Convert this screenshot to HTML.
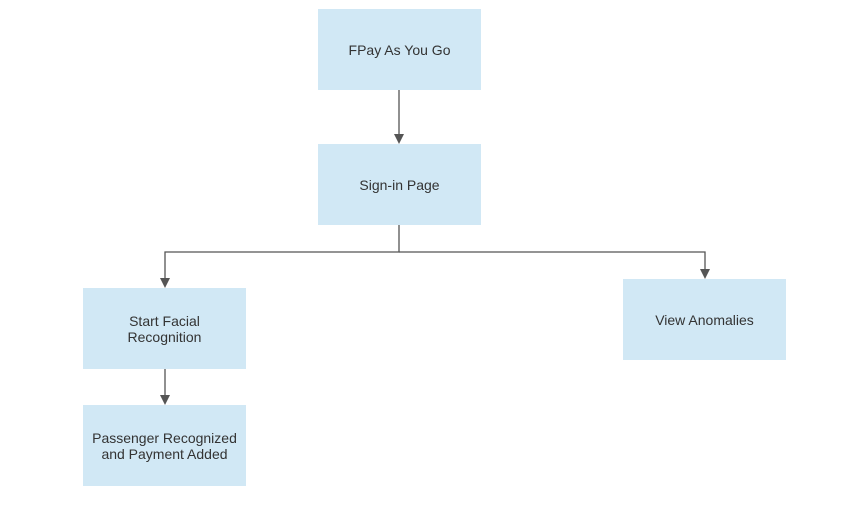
<!DOCTYPE html>
<html><head><meta charset="utf-8"><style>
html,body{margin:0;padding:0;background:#fff;}
body{width:867px;height:522px;position:relative;overflow:hidden;font-family:"Liberation Sans",Arial,sans-serif;}
.b{position:absolute;background:#d1e8f5;color:#333;font-size:14px;line-height:16px;display:flex;align-items:center;justify-content:center;text-align:center;width:163px;height:81px;}
svg{position:absolute;left:0;top:0;}
</style></head><body>
<svg width="867" height="522">
<g stroke="#555" stroke-width="1.3" fill="none">
<line x1="399" y1="90" x2="399" y2="134"/>
<polyline points="399,225 399,252 165,252 165,279"/>
<polyline points="399,252 705,252 705,270"/>
<line x1="165" y1="369" x2="165" y2="396"/>
</g>
<g fill="#555">
<polygon points="394,134 404,134 399,144"/>
<polygon points="160,278 170,278 165,288"/>
<polygon points="700,269 710,269 705,279"/>
<polygon points="160,395 170,395 165,405"/>
</g>
</svg>
<div class="b" style="left:318px;top:9px;">FPay As You Go</div>
<div class="b" style="left:318px;top:144px;">Sign-in Page</div>
<div class="b" style="left:83px;top:288px;">Start Facial<br>Recognition</div>
<div class="b" style="left:83px;top:405px;">Passenger Recognized<br>and Payment Added</div>
<div class="b" style="left:623px;top:279px;">View Anomalies</div>
</body></html>
